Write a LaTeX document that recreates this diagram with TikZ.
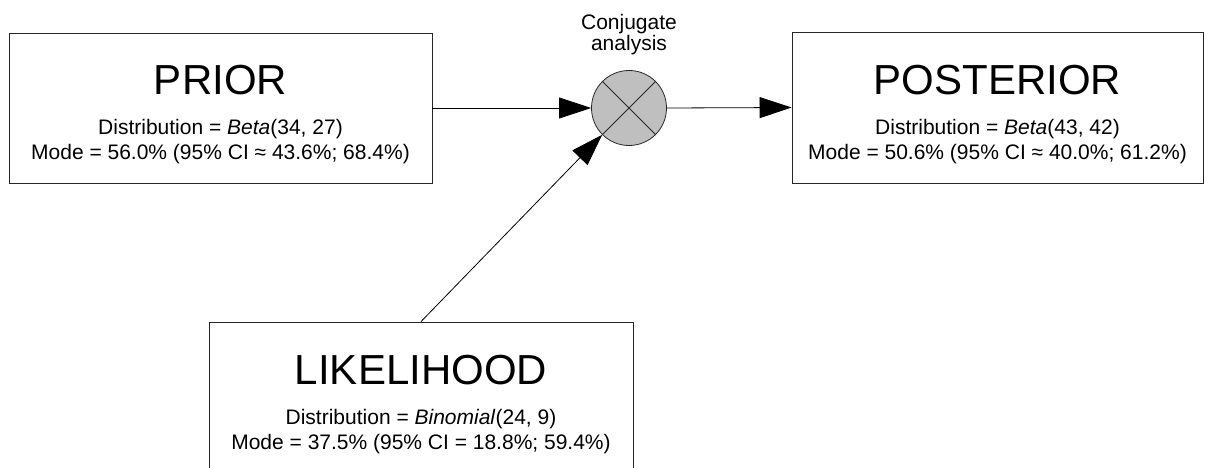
\documentclass[tikz,border=0pt]{standalone}
\usepackage{fontspec}
\setmainfont{Liberation Sans}
\usepackage{tikz}
\usetikzlibrary{arrows.meta}
\tikzset{>={Triangle[length=32pt,width=21pt]}}
\tikzset{
  box/.style={draw=black!85, line width=0.8pt, minimum width=423pt, minimum height=150pt, inner sep=0pt},
  title/.style={anchor=base, font=\fontsize{42}{50}\selectfont},
  info/.style={anchor=base, font=\fontsize{21}{25}\selectfont},
  mix/.style={draw=black!85, circle, fill=black!25, line width=0.8pt, minimum size=75pt, inner sep=0pt}
}

\begin{document}
\begin{tikzpicture}[x=1pt, y=-1pt]
    \path[use as bounding box, clip] (0,0) rectangle (1205,468);

    % boxes and the mixing circle
    \node[box] (prior) at (220.5,108) {};
    \node[box, minimum width=411pt, minimum height=151pt] (post) at (997.5,107.5) {};
    \node[box, minimum width=424pt, minimum height=160pt] (lik) at (421,402) {};
    \node[mix] (conj) at (629,108) {};
    \draw[black!85, line width=0.8pt] (conj.north west) -- (conj.south east);
    \draw[black!85, line width=0.8pt] (conj.north east) -- (conj.south west);

    % texts
    \node[info] (conjtop) at (629,30) {Conjugate};
    \node[info] (conjbot) at (629,51) {analysis};

    \node[title] (priortitle) at (220.5,95) {PRIOR};
    \node[info] (priordist) at (220.5,135) {Distribution = \textit{Beta}(34, 27)};
    \node[info] (priormode) at (220.5,160) {Mode = 56.0\% (95\% CI ≈ 43.6\%; 68.4\%)};

    \node[title] (posttitle) at (997.5,95) {POSTERIOR};
    \node[info] (postdist) at (997.5,135) {Distribution = \textit{Beta}(43, 42)};
    \node[info] (postmode) at (997.5,160) {Mode = 50.6\% (95\% CI ≈ 40.0\%; 61.2\%)};

    \node[title] (liktitle) at (421,384) {LIKELIHOOD};
    \node[info] (likdist) at (421,424) {Distribution = \textit{Binomial}(24, 9)};
    \node[info] (likmode) at (421,449) {Mode = 37.5\% (95\% CI = 18.8\%; 59.4\%)};

    % prior to circle
    \draw[->, line width=0.8pt] (prior.east) -- (conj.west);
    % likelihood to circle
    \draw[->, line width=0.8pt] (lik.north) -- (conj.south west);
    % circle to posterior
    \draw[->, line width=0.8pt] (conj.east) -- (post.west);
\end{tikzpicture}
\end{document}
